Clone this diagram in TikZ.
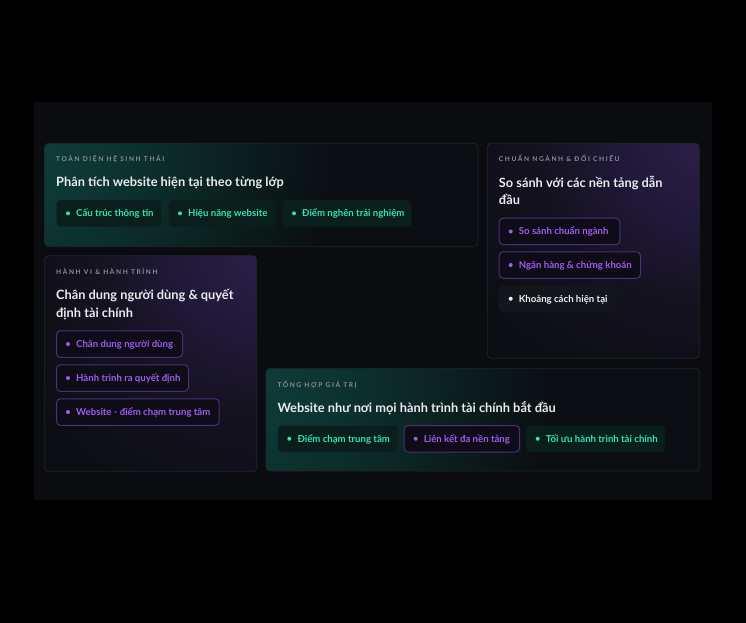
\documentclass[tikz,border=0pt]{standalone}
\usepackage{fontspec}
\setmainfont{Lato}
\newfontfamily\lblfont{Lato}[LetterSpace=24]
\definecolor{panel}{HTML}{0A0C10}
\definecolor{cardbg}{HTML}{0B0E13}
\definecolor{cardline}{HTML}{20252C}
\definecolor{tealglow}{HTML}{0E3E39}
\definecolor{tealmid}{HTML}{0C302C}
\definecolor{teallow}{HTML}{0B1D1D}
\definecolor{purpglow}{HTML}{2C2049}
\definecolor{purpmid}{HTML}{201838}
\definecolor{purplow}{HTML}{15121F}
\definecolor{tealtxt}{HTML}{2EE4B8}
\definecolor{purptxt}{HTML}{9D5CF0}
\definecolor{purpline}{HTML}{4A2F80}
\definecolor{tealchip}{HTML}{0A1F1B}
\definecolor{purpchip}{HTML}{0E0C16}
\definecolor{graychip}{HTML}{13161C}
\definecolor{labelgray}{HTML}{8A9099}
\definecolor{titlewhite}{HTML}{E8ECEF}
\definecolor{whitetxt}{HTML}{EDEFF2}
\pgfdeclareradialshading{tealglowshade}{\pgfpoint{0bp}{0bp}}{color(0bp)=(tealglow); color(8bp)=(tealmid); color(15bp)=(teallow); color(21bp)=(cardbg); color(50bp)=(cardbg)}
\pgfdeclareradialshading{purpglowshade}{\pgfpoint{0bp}{0bp}}{color(0bp)=(purpglow); color(8bp)=(purpmid); color(15bp)=(purplow); color(25bp)=(cardbg); color(50bp)=(cardbg)}
\tikzset{
  cardframe/.style={draw=cardline, line width=0.8pt, rounded corners=4pt},
  chipbox/.style={rounded corners=4pt, line width=1pt, minimum height=26.5pt, inner sep=0pt},
  chiptext/.style={font=\bfseries\fontsize{9.6}{11}\selectfont, inner sep=0pt},
  cardlabel/.style={font=\lblfont\bfseries\fontsize{6.6}{8}\selectfont, text=labelgray, inner sep=0pt, anchor=base west},
  cardtitle/.style={font=\bfseries\fontsize{12.8}{16}\selectfont, text=titlewhite, inner sep=0pt, anchor=base west}
}
\newcommand\mychip[8]{%
  \node[chipbox, fill=#5, draw=#6, minimum width=#4pt, anchor=north west] (#1) at (#2,#3) {};
  \fill[#7] ([xshift=12pt]#1.west) circle (2pt);
  \node[chiptext, text=#7, anchor=base west] (#1t) at ([xshift=20pt,yshift=-3.4pt]#1.west) {#8};
}
\begin{document}
\begin{tikzpicture}[x=1pt, y=-1pt]
\useasboundingbox (0,0) rectangle (746,623);
\fill[black] (0,0) rectangle (746,623);
\fill[panel] (34,101.7) rectangle (711.7,499.5);

% card 1 (teal)
\begin{scope}
  \clip[rounded corners=4pt] (44.7,143.3) rectangle (478,246.7);
  \fill[cardbg] (44.7,143.3) rectangle (478,246.7);
  \shade[shading=tealglowshade] (25,150) circle (370pt);
\end{scope}
\draw[cardframe] (44.7,143.3) rectangle (478,246.7);

% card 2 (purple)
\begin{scope}
  \clip[rounded corners=4pt] (487.3,143.3) rectangle (699.3,358.3);
  \fill[cardbg] (487.3,143.3) rectangle (699.3,358.3);
  \shade[shading=purpglowshade] (705,138) circle (280pt);
\end{scope}
\draw[cardframe] (487.3,143.3) rectangle (699.3,358.3);

% card 3 (purple)
\begin{scope}
  \clip[rounded corners=4pt] (44.7,255.7) rectangle (256.7,471.7);
  \fill[cardbg] (44.7,255.7) rectangle (256.7,471.7);
  \shade[shading=purpglowshade] (262,250) circle (280pt);
\end{scope}
\draw[cardframe] (44.7,255.7) rectangle (256.7,471.7);

% card 4 (teal)
\begin{scope}
  \clip[rounded corners=4pt] (266,368.3) rectangle (699.3,471);
  \fill[cardbg] (266,368.3) rectangle (699.3,471);
  \shade[shading=tealglowshade] (246,375) circle (370pt);
\end{scope}
\draw[cardframe] (266,368.3) rectangle (699.3,471);

% texts card 1
\node[cardlabel] (l1) at (56,161.6) {TOÀN DIỆN HỆ SINH THÁI};
\node[cardtitle] (t1) at (56,186.7) {Phân tích website hiện tại theo từng lớp};
\mychip{c11}{56}{199.6}{104.7}{tealchip}{none}{tealtxt}{Cấu trúc thông tin}
\mychip{c12}{168}{199.6}{107}{tealchip}{none}{tealtxt}{Hiệu năng website}
\mychip{c13}{282}{199.6}{129}{tealchip}{none}{tealtxt}{Điểm nghẽn trải nghiệm}

% card 2
\node[cardlabel] (l2) at (498.7,161.6) {CHUẨN NGÀNH \& ĐỐI CHIẾU};
\node[cardtitle] (t2a) at (498.7,187) {So sánh với các nền tảng dẫn};
\node[cardtitle] (t2b) at (498.7,204.7) {đầu};
\mychip{c21}{498.7}{217.7}{120.6}{purpchip}{purpline}{purptxt}{So sánh chuẩn ngành}
\mychip{c22}{498.7}{251.3}{141.3}{purpchip}{purpline}{purptxt}{Ngân hàng \& chứng khoán}
\mychip{c23}{498.7}{285}{118}{graychip}{none}{whitetxt}{Khoảng cách hiện tại}

% card 3
\node[cardlabel] (l3) at (56,274.6) {HÀNH VI \& HÀNH TRÌNH};
\node[cardtitle] (t3a) at (56,299) {Chân dung người dùng \& quyết};
\node[cardtitle] (t3b) at (56,317) {định tài chính};
\mychip{c31}{56}{330.3}{126}{purpchip}{purpline}{purptxt}{Chân dung người dùng}
\mychip{c32}{56}{364.3}{132}{purpchip}{purpline}{purptxt}{Hành trình ra quyết định}
\mychip{c33}{56}{398.3}{162.7}{purpchip}{purpline}{purptxt}{Website - điểm chạm trung tâm}

% card 4
\node[cardlabel] (l4) at (277.3,387.3) {TỔNG HỢP GIÁ TRỊ};
\node[cardtitle] (t4) at (277.3,412) {Website như nơi mọi hành trình tài chính bắt đầu};
\mychip{c41}{277.3}{425}{119.7}{tealchip}{none}{tealtxt}{Điểm chạm trung tâm}
\mychip{c42}{403.7}{425}{115.3}{purpchip}{purpline}{purptxt}{Liên kết đa nền tảng}
\mychip{c43}{525.7}{425}{138.6}{tealchip}{none}{tealtxt}{Tối ưu hành trình tài chính}
\end{tikzpicture}
\end{document}
